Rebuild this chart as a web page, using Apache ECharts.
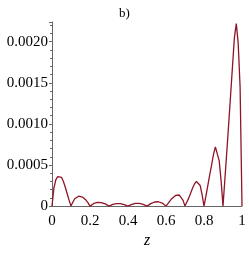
<!DOCTYPE html>
<html>
<head>
<meta charset="utf-8">
<script src="https://cdn.jsdelivr.net/npm/echarts@6/dist/echarts.min.js"></script>
<style>html,body{margin:0;padding:0;background:#fff}#c{width:249px;height:254px}</style>
</head>
<body>
<div id="c"></div>
<script>
// z sample positions (step 0.01) and the curve values
var zValues = [
  0.00,0.01,0.02,0.03,0.04,0.05,0.06,0.07,0.08,0.09,
  0.10,0.11,0.12,0.13,0.14,0.15,0.16,0.17,0.18,0.19,
  0.20,0.21,0.22,0.23,0.24,0.25,0.26,0.27,0.28,0.29,
  0.30,0.31,0.32,0.33,0.34,0.35,0.36,0.37,0.38,0.39,
  0.40,0.41,0.42,0.43,0.44,0.45,0.46,0.47,0.48,0.49,
  0.50,0.51,0.52,0.53,0.54,0.55,0.56,0.57,0.58,0.59,
  0.60,0.61,0.62,0.63,0.64,0.65,0.66,0.67,0.68,0.69,
  0.70,0.71,0.72,0.73,0.74,0.75,0.76,0.77,0.78,0.79,
  0.80,0.81,0.82,0.83,0.84,0.85,0.86,0.87,0.88,0.89,
  0.90,0.91,0.92,0.93,0.94,0.95,0.96,0.97,0.98,0.99,
  1.00
];
var curveValues = [
  0, 0.00022, 0.00032, 0.00036, 0.00037, 0.00035, 0.00030, 0.00023, 0.00015, 0.00007,
  0, 0.00005, 0.00009, 0.00011, 0.00012, 0.00012, 0.00011, 0.00009, 0.00007, 0.00004,
  0, 0.000018, 0.000032, 0.000041, 0.000045, 0.000045, 0.000042, 0.000036, 0.000027, 0.000015,
  0, 0.000011, 0.00002, 0.000026, 0.000029, 0.00003, 0.000029, 0.000025, 0.000019, 0.00001,
  0, 0.000011, 0.000021, 0.000028, 0.000032, 0.000034, 0.000033, 0.000029, 0.000022, 0.000012,
  0, 0.000016, 0.00003, 0.000042, 0.00005, 0.000054, 0.000053, 0.000047, 0.000037, 0.00002,
  0, 0.00003, 0.00006, 0.00009, 0.00011, 0.00013, 0.000137, 0.000135, 0.00012, 0.00007,
  0, 0.00005, 0.0001, 0.00016, 0.00022, 0.00027, 0.0003, 0.0003, 0.00025, 0.00014,
  0, 0.00012, 0.00025, 0.00038, 0.0005, 0.00063, 0.00072, 0.00071, 0.00055, 0.00031,
  0, 0.00033, 0.00066, 0.001, 0.00135, 0.0017, 0.00205, 0.00222, 0.00198, 0.00145,
  0
];
var xTicks = [0, 0.2, 0.4, 0.6, 0.8, 1];
var yTicks = [0, 0.0005, 0.0010, 0.0015, 0.0020];

var pairs = zValues.map(function (z, i) { return [z, curveValues[i]]; });
var serif = 'Liberation Serif';
var chart = echarts.init(document.getElementById('c'), null, {renderer: 'canvas'});
chart.setOption({
  animation: false,
  backgroundColor: '#fff',
  title: {
    text: 'b)', left: 'center', top: 2,
    textStyle: {fontFamily: serif, fontSize: 13, fontWeight: 'normal', color: '#000'}
  },
  grid: {left: 52, right: 7, top: 22, bottom: 42, containLabel: false},
  xAxis: {
    type: 'value', min: 0, max: 1, interval: 0.2,
    name: 'z', nameLocation: 'middle', nameGap: 26,
    nameTextStyle: {fontFamily: serif, fontSize: 16, fontStyle: 'italic', color: '#000'},
    axisLine: {show: true, onZero: false, lineStyle: {color: '#666', width: 1}},
    axisTick: {show: false},
    splitLine: {show: false},
    axisLabel: {
      margin: 7, fontFamily: serif, fontSize: 15, color: '#000',
      formatter: function (v) { return xTicks.indexOf(v) >= 0 ? String(v) : ''; }
    }
  },
  yAxis: {
    type: 'value', min: 0, max: 0.00224, interval: 0.0005,
    axisLine: {show: true, lineStyle: {color: '#666', width: 1}},
    axisTick: {show: true, length: 3, lineStyle: {color: '#666'}},
    minorTick: {show: true, splitNumber: 5, length: 2, lineStyle: {color: '#666'}},
    splitLine: {show: false},
    axisLabel: {
      margin: 4, fontFamily: serif, fontSize: 15, color: '#000',
      formatter: function (v) {
        var k = yTicks.findIndex(function (t) { return Math.abs(t - v) < 1e-9; });
        if (k < 0) return '';
        return v === 0 ? '0' : yTicks[k].toFixed(4);
      }
    }
  },
  series: [
    {
      type: 'line', data: pairs, symbol: 'none', smooth: false,
      lineStyle: {color: '#8e1426', width: 1.3}, z: 3
    }
  ]
});
</script>
</body>
</html>
